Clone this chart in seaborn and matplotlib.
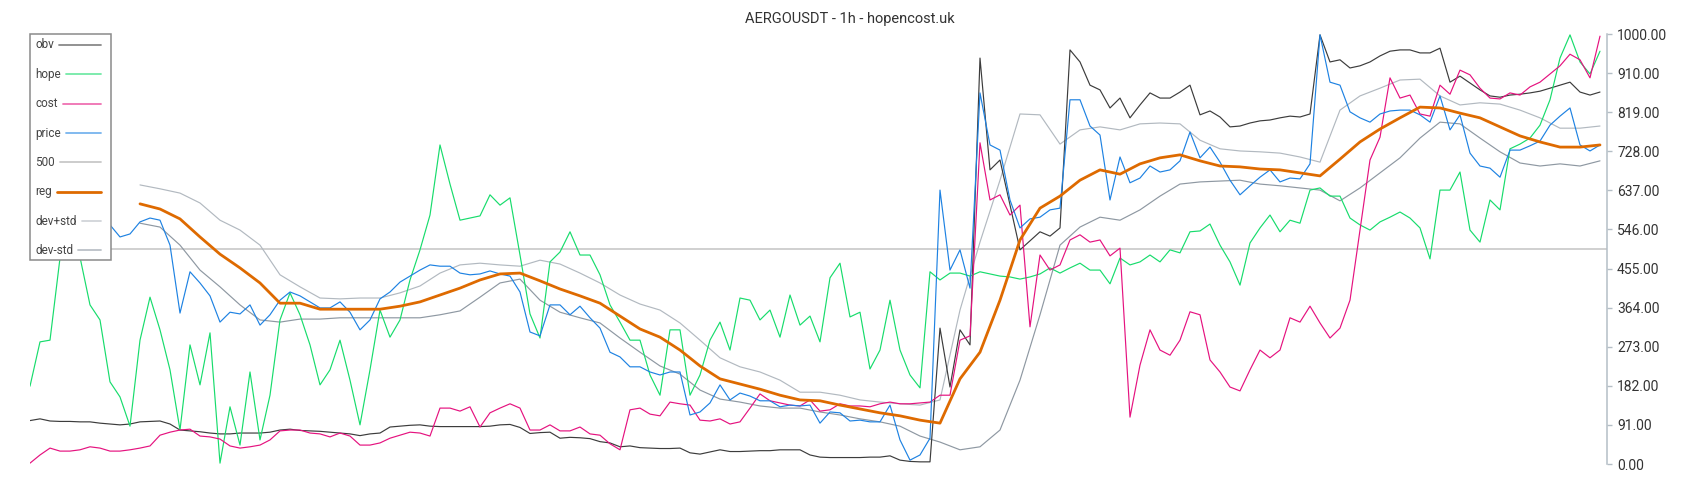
import numpy as np
import seaborn as sns
import matplotlib.pyplot as plt
from matplotlib.lines import Line2D
from matplotlib.patches import Rectangle

# hourly candles, one value per hour
hours = np.arange(158)

obv = [101, 105, 100, 99, 99, 98, 98, 95, 93, 91,
       93, 98, 99, 100, 93, 79, 77, 75, 72, 70,
       70, 72, 72, 72, 74, 79, 81, 78, 77, 76,
       74, 72, 70, 66, 70, 72, 86, 88, 90, 91,
       88, 87, 87, 87, 87, 87, 88, 91, 92, 85,
       71, 73, 74, 60, 62, 61, 59, 52, 49, 40,
       42, 38, 37, 36, 36, 37, 26, 23, 28, 33,
       29, 29, 30, 31, 31, 33, 33, 33, 21, 16,
       15, 15, 15, 15, 16, 16, 19, 9, 6, 5,
       5, 316, 179, 312, 277, 944, 684, 707, 602, 498,
       519, 540, 530, 549, 963, 935, 881, 870, 828, 851,
       805, 835, 863, 851, 851, 865, 881, 812, 821, 807,
       784, 786, 793, 798, 800, 805, 809, 807, 814, 998,
       935, 940, 921, 926, 935, 949, 960, 963, 963, 956,
       956, 967, 888, 902, 886, 870, 856, 853, 858, 860,
       863, 867, 874, 881, 888, 865, 858, 865]

hope = [181, 284, 288, 479, 521, 481, 370, 335, 191, 156,
        88, 288, 388, 312, 219, 79, 277, 184, 305, 2,
        133, 44, 214, 56, 160, 335, 398, 347, 277, 184,
        219, 288, 195, 91, 219, 358, 295, 335, 428, 498,
        579, 742, 651, 567, 572, 577, 626, 602, 619, 486,
        349, 293, 470, 493, 540, 486, 486, 440, 370, 330,
        288, 288, 207, 160, 312, 312, 160, 207, 288, 330,
        265, 386, 381, 335, 358, 295, 393, 323, 344, 284,
        433, 467, 342, 353, 221, 265, 381, 265, 207, 177,
        447, 428, 444, 444, 437, 447, 442, 437, 435, 430,
        435, 442, 456, 444, 456, 467, 451, 451, 419, 479,
        463, 470, 486, 470, 498, 491, 540, 542, 558, 509,
        470, 416, 514, 549, 579, 540, 567, 560, 637, 642,
        623, 623, 572, 556, 544, 563, 574, 586, 572, 549,
        477, 637, 637, 679, 544, 516, 614, 591, 733, 744,
        758, 788, 847, 944, 998, 935, 907, 960]

cost = [2, 21, 37, 30, 30, 33, 40, 37, 30, 30,
        33, 37, 42, 67, 74, 79, 81, 65, 63, 58,
        42, 37, 40, 44, 56, 77, 79, 79, 72, 70,
        63, 72, 65, 44, 44, 49, 60, 67, 74, 72,
        65, 130, 130, 123, 133, 86, 119, 130, 140, 130,
        79, 79, 91, 77, 77, 86, 70, 67, 47, 33,
        126, 130, 116, 112, 144, 140, 137, 102, 100, 105,
        93, 98, 130, 163, 147, 142, 137, 135, 149, 123,
        126, 140, 135, 135, 133, 140, 144, 140, 140, 142,
        144, 160, 160, 288, 298, 747, 614, 626, 579, 602,
        319, 486, 451, 463, 521, 533, 516, 521, 484, 502,
        109, 230, 312, 265, 253, 288, 354, 347, 242, 214,
        179, 170, 219, 265, 247, 265, 340, 330, 367, 328,
        293, 316, 381, 544, 707, 760, 898, 851, 858, 814,
        809, 881, 860, 916, 905, 874, 851, 849, 863, 858,
        877, 888, 907, 926, 953, 940, 898, 995]

price = [544, 533, 540, 549, 556, 544, 563, 554, 556, 528,
         535, 563, 572, 567, 509, 351, 447, 421, 391, 330,
         353, 349, 370, 323, 347, 381, 400, 391, 377, 363,
         363, 377, 353, 312, 335, 384, 400, 423, 437, 451,
         463, 460, 460, 444, 440, 442, 449, 442, 437, 400,
         307, 298, 370, 370, 347, 367, 340, 316, 260, 249,
         226, 226, 214, 207, 214, 214, 114, 121, 142, 184,
         149, 165, 158, 147, 147, 133, 137, 135, 137, 95,
         121, 119, 100, 102, 98, 98, 137, 56, 9, 21,
         60, 637, 451, 498, 409, 863, 742, 730, 614, 549,
         570, 574, 591, 595, 847, 847, 786, 765, 614, 714,
         654, 665, 693, 679, 684, 705, 772, 712, 737, 702,
         660, 626, 647, 667, 684, 656, 665, 663, 698, 998,
         888, 881, 819, 805, 795, 814, 821, 823, 823, 812,
         795, 856, 777, 812, 723, 693, 688, 667, 730, 730,
         740, 751, 788, 809, 828, 742, 728, 742]

# regression channel starts later and is sampled every other hour
band_hours = hours[11::2]

reg = [605, 593, 570, 528, 488, 456, 421, 374, 374, 360,
       360, 360, 360, 367, 377, 393, 409, 428, 442, 444,
       426, 407, 391, 374, 344, 314, 295, 265, 228, 198,
       186, 174, 160, 149, 147, 137, 128, 119, 112, 102,
       95, 198, 260, 381, 521, 595, 623, 660, 684, 674,
       698, 712, 719, 705, 693, 691, 686, 684, 677, 670,
       709, 749, 779, 805, 830, 828, 816, 805, 784, 763,
       749, 737, 737, 742]

dev_plus = [649, 640, 630, 607, 567, 544, 509, 440, 412, 386,
            384, 386, 386, 398, 414, 444, 463, 467, 463, 460,
            474, 465, 444, 421, 393, 372, 358, 328, 288, 247,
            226, 214, 195, 167, 167, 160, 149, 144, 140, 137,
            149, 358, 516, 660, 814, 812, 744, 777, 784, 777,
            791, 793, 791, 753, 733, 728, 726, 723, 714, 702,
            823, 856, 874, 893, 895, 856, 835, 840, 837, 823,
            805, 781, 781, 786]

dev_minus = [560, 551, 509, 451, 412, 370, 335, 330, 337, 337,
             340, 340, 340, 340, 340, 347, 356, 388, 421, 430,
             381, 353, 340, 328, 293, 260, 228, 209, 172, 151,
             144, 135, 130, 130, 121, 114, 105, 98, 88, 65,
             51, 33, 40, 79, 195, 347, 509, 551, 574, 567,
             591, 623, 651, 656, 658, 660, 651, 647, 642, 637,
             612, 642, 677, 712, 758, 795, 791, 758, 726, 700,
             693, 698, 693, 705]

level = 500
ytick_vals = np.linspace(0, 1000, 12)
ytick_labels = ["0.00", "91.00", "182.00", "273.00", "364.00", "455.00",
                "546.00", "637.00", "728.00", "819.00", "910.00", "1000.00"]

colors = {"obv": "#3c3c3c", "hope": "#17dc6c", "cost": "#e5127f",
          "price": "#1e82e2", "500": "#c8c8c8", "reg": "#de6a00",
          "dev+std": "#b2b9c0", "dev-std": "#8e98a2"}

sns.set_style("white")
plt.rcParams['font.family'] = ['Roboto', 'DejaVu Sans']

W, H = 1700, 500
fig = plt.figure(figsize=(17, 5), dpi=100)
ax = fig.add_axes([30 / W, 36 / H, 1577 / W, 430 / H])

thin = 0.85
sns.lineplot(x=hours, y=obv, ax=ax, color=colors["obv"], lw=thin, zorder=2)
sns.lineplot(x=hours, y=hope, ax=ax, color=colors["hope"], lw=thin, zorder=2)
sns.lineplot(x=hours, y=cost, ax=ax, color=colors["cost"], lw=thin, zorder=2)
sns.lineplot(x=hours, y=price, ax=ax, color=colors["price"], lw=thin, zorder=2.1)
ax.axhline(level, color=colors["500"], lw=1.2, zorder=1.5)
sns.lineplot(x=band_hours, y=reg, ax=ax, color=colors["reg"], lw=2.0, zorder=3)
sns.lineplot(x=band_hours, y=dev_plus, ax=ax, color=colors["dev+std"], lw=thin, zorder=1.6)
sns.lineplot(x=band_hours, y=dev_minus, ax=ax, color=colors["dev-std"], lw=thin, zorder=1.6)

ax.set_xlim(0, 157.7)
ax.set_ylim(0, 1000)
ax.set_xticks([])
ax.set_xlabel("")
ax.yaxis.tick_right()
ax.set_yticks(ytick_vals)
ax.set_yticklabels(ytick_labels)
ax.tick_params(axis="y", length=3.6, width=1, color="#b4bec6", pad=3.6,
               labelsize=10, labelcolor="#333333")
for side in ["left", "top", "bottom"]:
    ax.spines[side].set_visible(False)
ax.spines["right"].set_color("#b4bec6")
ax.spines["right"].set_linewidth(1.1)
ax.grid(False)

fig.text(0.5, 1 - 19.5 / H, "AERGOUSDT - 1h - hopencost.uk", ha="center",
         va="center", fontsize=10.5, color="#333333")

# legend box drawn by hand: label on the left, swatch stretched to the right
fig.add_artist(Rectangle((30 / W, 1 - 259.5 / H), 81 / W, 225.5 / H,
                         transform=fig.transFigure, facecolor="white",
                         edgecolor="#8a8a8a", lw=1.1, zorder=10))
fig.canvas.draw()
renderer = fig.canvas.get_renderer()
for k, name in enumerate(colors):
    yc = 1 - (45 + 29.35 * k) / H
    t = fig.text(35 / W, yc, name, ha="left", va="center", fontsize=8.5,
                 color="#444444", zorder=11)
    x_end = t.get_window_extent(renderer).x1
    alpha = 1.0 if name in ("reg", "500") else 0.6
    lw = 2.0 if name == "reg" else 1.3
    fig.add_artist(Line2D([(x_end + 5) / W, 100.7 / W], [yc, yc],
                          transform=fig.transFigure, color=colors[name],
                          alpha=alpha, lw=lw, zorder=11))

fig.savefig("out.png", dpi=100)
